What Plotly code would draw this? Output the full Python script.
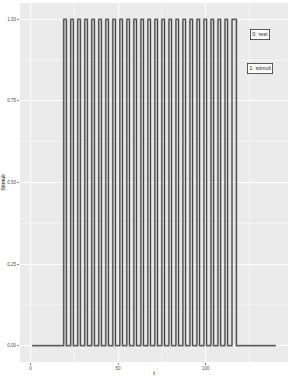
import plotly.graph_objects as go

# data
t_start = 1
t_end = 140
pulse_onsets = [19, 23, 27, 31, 35, 39, 43, 47, 51, 55, 59, 63, 67, 71, 75,
                79, 83, 87, 91, 95, 99, 103, 107, 111, 115]
pulse_offsets = [20.5, 24.5, 28.5, 32.5, 36.5, 40.5, 44.5, 48.5, 52.5, 56.5,
                 60.5, 64.5, 68.5, 72.5, 76.5, 80.5, 84.5, 88.5, 92.5, 96.5,
                 100.5, 104.5, 108.5, 112.5, 117.5]
level_rest = 0
level_stim = 1
x_ticks = [0, 50, 100]
y_ticks = [0.0, 0.25, 0.5, 0.75, 1.0]
y_tick_labels = ["0.00", "0.25", "0.50", "0.75", "1.00"]
label_texts = ["0: rest", "1: stimuli"]
label_x = [131, 131]
label_y = [0.953, 0.848]

xs = [t_start]
ys = [level_rest]
for on, off in zip(pulse_onsets, pulse_offsets):
    xs += [on, on, off, off]
    ys += [level_rest, level_stim, level_stim, level_rest]
xs.append(t_end)
ys.append(level_rest)

fig = go.Figure()
fig.add_trace(go.Scatter(x=xs, y=ys, mode="lines",
                         line=dict(color="rgba(80,80,80,0.35)", width=2.2),
                         hoverinfo="skip", showlegend=False))
fig.add_trace(go.Scatter(x=xs, y=ys, mode="lines",
                         line=dict(color="#333333", width=0.9),
                         showlegend=False))

for txt, lx, ly in zip(label_texts, label_x, label_y):
    fig.add_annotation(x=lx, y=ly, text=txt, showarrow=False,
                       font=dict(size=5.5, color="#222222", family="Liberation Sans"),
                       bgcolor="white", bordercolor="#333333", borderwidth=0.8,
                       borderpad=1.5)

span = t_end - t_start
xr = [t_start - 0.05 * span, t_end + 0.05 * span]
yr = [-0.05, 1.05]

minor_x = [-25 + 50 * i for i in range(5)]
minor_y = [0.125 + 0.25 * i for i in range(4)]
for mx in minor_x:
    if xr[0] < mx < xr[1]:
        fig.add_shape(type="line", x0=mx, x1=mx, y0=0, y1=1, xref="x", yref="paper",
                      line=dict(color="white", width=0.5), layer="below")
for my in minor_y:
    fig.add_shape(type="line", x0=0, x1=1, y0=my, y1=my, xref="paper", yref="y",
                  line=dict(color="white", width=0.5), layer="below")

fig.update_layout(
    width=291, height=376,
    margin=dict(l=20, r=3, t=3, b=14),
    plot_bgcolor="#EBEBEB", paper_bgcolor="white",
    font=dict(family="Liberation Sans", size=5, color="#4D4D4D"),
    showlegend=False,
)
fig.update_xaxes(range=xr, tickvals=x_ticks, ticktext=[str(v) for v in x_ticks],
                 showgrid=True, gridcolor="white", gridwidth=1, zeroline=False,
                 automargin=False,
                 ticks="outside", ticklen=2, tickcolor="#333333", tickwidth=0.6,
                 tickfont=dict(size=4.5, color="#4D4D4D"),
                 title=dict(text="t", font=dict(size=5.5, color="#000000"), standoff=1))
fig.update_yaxes(range=yr, tickvals=y_ticks, ticktext=y_tick_labels,
                 showgrid=True, gridcolor="white", gridwidth=1, zeroline=False,
                 automargin=False,
                 ticks="outside", ticklen=2, tickcolor="#333333", tickwidth=0.6,
                 tickfont=dict(size=4.5, color="#4D4D4D"),
                 title=dict(text="Stimuli", font=dict(size=5.5, color="#000000"), standoff=1))

fig.write_html("out.html",
               config={"displayModeBar": False, "staticPlot": True},
               post_script="document.body.style.margin='0';document.body.style.padding='0';")
